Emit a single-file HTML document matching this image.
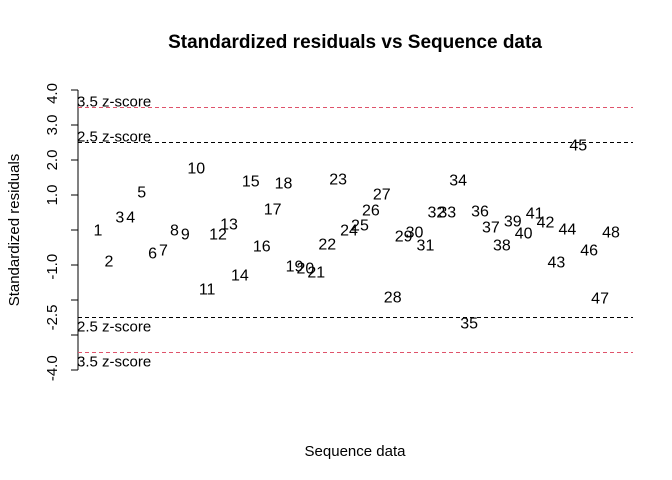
<!DOCTYPE html>
<html><head><meta charset="utf-8"><style>
html,body{margin:0;padding:0;background:#fff;}
svg{display:block;font-family:"Liberation Sans",Arial,sans-serif;}
</style></head><body>
<svg id="chart" width="672" height="480">
<text x="355" y="48" text-anchor="middle" font-size="19" font-weight="bold">Standardized residuals vs Sequence data</text>
<text x="355" y="456" text-anchor="middle" font-size="15">Sequence data</text>
<text transform="translate(19,230) rotate(-90)" text-anchor="middle" font-size="15">Standardized residuals</text>
<g id="yaxis"></g>
<g id="refs"></g>
<g id="pts"></g>
</svg>
<script>
const residuals = [0.0,-0.89,0.37,0.37,1.09,-0.66,-0.57,0.0,-0.11,1.77,-1.69,-0.11,0.17,-1.29,1.4,-0.46,0.6,1.34,-1.03,-1.09,-1.2,-0.4,1.46,0.0,0.14,0.57,1.03,-1.91,-0.17,-0.06,-0.43,0.51,0.51,1.43,-2.66,0.54,0.09,-0.43,0.26,-0.09,0.49,0.23,-0.91,0.03,2.43,-0.57,-1.94,-0.06];
const tickValues = [4,3,2,1,0,-1,-2,-3,-4];
const tickLabels = ["4.0","3.0","2.0","1.0","","-1.0","","-2.5","-4.0"];
const labelValues = [3.9,3,2,1,0,-1.05,-2,-2.5,-3.95];
const refValues = [3.5,2.5,-2.5,-3.5];
const refLabels = ["3.5 z-score","2.5 z-score","2.5 z-score","3.5 z-score"];
const refColors = ["#DF536B","#000","#000","#DF536B"];

const NS="http://www.w3.org/2000/svg";
function y(v){return 230-35*v;}
function x(i){return 98+(i-1)*(611-98)/47;}
function mk(tag,attrs,parent){const e=document.createElementNS(NS,tag);for(const k in attrs)e.setAttribute(k,attrs[k]);parent.appendChild(e);return e;}
const ya=document.getElementById('yaxis'),rf=document.getElementById('refs'),pt=document.getElementById('pts');
const axl=mk('line',{x1:78,x2:78,y1:y(4),y2:y(-4),stroke:'#000'},ya);


tickValues.forEach((v,i)=>{
  const t=mk('line',{x1:71,x2:78,y1:y(v),y2:y(v),stroke:'#000'},ya);
  
  
  if(tickLabels[i]){
    const l=mk('text',{transform:`translate(57,${y(labelValues[i])}) rotate(-90)`,'text-anchor':'middle','font-size':15},ya);
    l.textContent=tickLabels[i];
    
    
  }
});
refValues.forEach((v,i)=>{
  const l=mk('line',{x1:78,x2:633,y1:y(v),y2:y(v),stroke:refColors[i],'stroke-dasharray':'4,3'},rf);
  
  
  const tx=mk('text',{x:77,y:v>0?y(v)-1:y(v)+14,'font-size':15},rf);
  tx.textContent=refLabels[i];
  
  
});
residuals.forEach((v,i)=>{
  const t=mk('text',{x:x(i+1),y:y(v)+5.5,'text-anchor':'middle','font-size':16},pt);
  t.textContent=String(i+1);
  
  
});
</script>
</body></html>
